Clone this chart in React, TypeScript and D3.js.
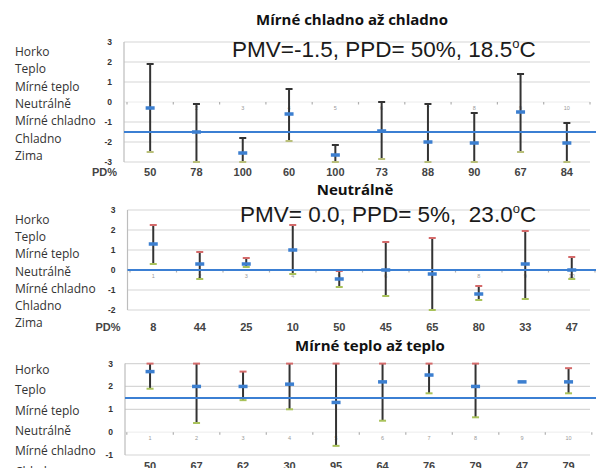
import React from 'react'
import * as d3 from 'd3'

// thermal sensation scale, shown left of each panel
const scaleLabels = ['Horko', 'Teplo', 'Mírné teplo', 'Neutrálně', 'Mírné chladno', 'Chladno', 'Zima']
const caseIds = ['1', '2', '3', '4', '5', '6', '7', '8', '9', '10']

// Mírné chladno až chladno
const coldPD = [50, 78, 100, 60, 100, 73, 88, 90, 67, 84]
const coldMean = [-0.3, -1.5, -2.55, -0.6, -2.65, -1.45, -2.0, -2.05, -0.5, -2.05]
const coldHi = [1.9, -0.1, -1.8, 0.65, -2.15, 0.0, -0.1, -0.55, 1.4, -1.05]
const coldLo = [-2.5, -3, -3, -1.95, -3, -2.85, -3, -3, -2.5, -3]

// Neutrálně
const neutralPD = [8, 44, 25, 10, 50, 45, 65, 80, 33, 47]
const neutralMean = [1.3, 0.3, 0.3, 1.0, -0.45, 0.0, -0.2, -1.2, 0.3, 0.0]
const neutralHi = [2.25, 0.9, 0.6, 2.25, -0.05, 1.4, 1.6, -0.8, 1.95, 0.65]
const neutralLo = [0.3, -0.45, 0.15, -0.2, -0.85, -1.3, -2.0, -1.5, -1.45, -0.45]

// Mírné teplo až teplo
const warmPD = [50, 67, 62, 30, 95, 64, 76, 79, 47, 79]
const warmMean = [2.65, 2.0, 2.0, 2.1, 1.3, 2.2, 2.5, 2.0, 2.2, 2.2]
const warmHi = [3, 3, 2.65, 3, 3, 3, 3, 3, 2.2, 2.8]
const warmLo = [1.9, 0.4, 1.4, 1.0, -0.6, 0.5, 1.7, 0.65, 2.2, 1.7]

const sans = '"Open Sans", "Noto Sans", sans-serif'
const arial = '"Liberation Sans", Arial, sans-serif'

type PanelProps = {
  title: string
  titleX: number
  titleY: number
  pmv?: string
  pmvX?: number
  pmvY?: number
  yDomain: [number, number]
  yRange: [number, number]
  xRange: [number, number]
  axisX: number
  pd: number[]
  mean: number[]
  hi: number[]
  lo: number[]
  refValue: number
  pdY: number
  showPD: boolean
  labelY: number
  labelStep: number
  hiCap: string
  loCap: string
}

const Panel = (p: PanelProps) => {
  const y = d3.scaleLinear().domain(p.yDomain).range(p.yRange)
  const x = d3.scaleBand().domain(caseIds).range(p.xRange).padding(0)
  const cx = (i: number) => (x(caseIds[i]) as number) + x.bandwidth() / 2
  const ticks = d3.range(p.yDomain[0], p.yDomain[1] + 1)
  const y0 = y(0)
  return (
    <g>
      {ticks.filter(t => t !== 0).map(t => (
        <line key={'g' + t} x1={p.axisX} x2={590} y1={y(t)} y2={y(t)} stroke="#d6d6d6" strokeWidth={1.2} />
      ))}
      <line x1={p.axisX} x2={590} y1={y0} y2={y0} stroke="#ececec" strokeWidth={1} />
      {d3.range(0, 11).map(i => (
        <line key={'bt' + i} x1={p.xRange[0] + i * x.step()} x2={p.xRange[0] + i * x.step()} y1={y0} y2={y0 + 2.5} stroke="#b0b0b0" strokeWidth={1.2} />
      ))}
      <line x1={p.axisX} x2={p.axisX} y1={y(p.yDomain[1])} y2={y(p.yDomain[0])} stroke="#bdbdbd" strokeWidth={1.2} />
      {ticks.map(t => (
        <text key={'t' + t} x={p.axisX - 12} y={y(t) + 3} textAnchor="end" fontFamily={arial} fontWeight="bold" fontSize={8.5} fill="#333">{t}</text>
      ))}
      {scaleLabels.map((s, i) => (
        <text key={s} x={15} y={p.labelY + i * p.labelStep + 4} fontFamily={sans} fontSize={12} fill="#333">{s}</text>
      ))}
      {caseIds.map((c, i) => (
        <text key={'id' + c} x={cx(i)} y={y0 + 8} textAnchor="middle" fontFamily={arial} fontSize={5.5} fill="#999">{c}</text>
      ))}
      {caseIds.map((c, i) => (
        <g key={'eb' + c}>
          <line x1={cx(i)} x2={cx(i)} y1={y(p.hi[i])} y2={y(p.lo[i])} stroke="#333" strokeWidth={2} />
          <line x1={cx(i) - 3.5} x2={cx(i) + 3.5} y1={y(p.hi[i])} y2={y(p.hi[i])} stroke={p.hiCap} strokeWidth={2} />
          <line x1={cx(i) - 3.5} x2={cx(i) + 3.5} y1={y(p.lo[i])} y2={y(p.lo[i])} stroke={p.loCap} strokeWidth={2} />
        </g>
      ))}
      <line x1={p.axisX} x2={596} y1={y(p.refValue)} y2={y(p.refValue)} stroke="#3b7fd3" strokeWidth={2} />
      {caseIds.map((c, i) => (
        <rect key={'m' + c} x={cx(i) - 4.5} y={y(p.mean[i]) - 1.75} width={9} height={3.5} fill="#3c7fd0" />
      ))}
      {p.pmv && (
        <text x={p.pmvX} y={p.pmvY} fontFamily={arial} fontSize={22.5} fill="#1a1a1a" style={{ whiteSpace: 'pre' }}>
          {p.pmv}
          <tspan fontSize={13} dy={-9}>o</tspan>
          <tspan dy={9}>C</tspan>
        </text>
      )}
      <text x={p.titleX} y={p.titleY} textAnchor="middle" fontFamily={sans} fontWeight="bold" fontSize={15} fill="#111">{p.title}</text>
      {p.showPD && (
        <text x={p.axisX - 7} y={p.pdY} textAnchor="end" fontFamily={arial} fontWeight="bold" fontSize={11} fill="#444">PD%</text>
      )}
      {p.pd.map((v, i) => (
        <text key={'pd' + i} x={cx(i)} y={p.pdY} textAnchor="middle" fontFamily={arial} fontWeight="bold" fontSize={11} fill="#444">{v}</text>
      ))}
    </g>
  )
}

export default function App() {
  return (
    <svg width={596} height={468} style={{ position: 'absolute', left: 0, top: 0, background: '#fff' }}>
      <rect width={596} height={468} fill="#fff" />
      <Panel
        title="Mírné chladno až chladno" titleX={352} titleY={25}
        pmv="PMV=-1.5, PPD= 50%, 18.5" pmvX={232} pmvY={57}
        yDomain={[-3, 3]} yRange={[162, 42]} xRange={[127, 590]} axisX={124}
        pd={coldPD} mean={coldMean} hi={coldHi} lo={coldLo} refValue={-1.5}
        pdY={176} showPD={true} labelY={52} labelStep={17.3}
        hiCap="#333" loCap="#b9bf7a"
      />
      <Panel
        title="Neutrálně" titleX={355} titleY={195}
        pmv="PMV= 0.0, PPD= 5%,  23.0" pmvX={240} pmvY={222}
        yDomain={[-2, 3]} yRange={[310, 210]} xRange={[130, 595]} axisX={127.5}
        pd={neutralPD} mean={neutralMean} hi={neutralHi} lo={neutralLo} refValue={0}
        pdY={331} showPD={true} labelY={220} labelStep={17.2}
        hiCap="#d46a6a" loCap="#a9c25a"
      />
      <Panel
        title="Mírné teplo až teplo" titleX={370} titleY={351}
        yDomain={[-1, 3]} yRange={[455, 363.6]} xRange={[126.8, 591.8]} axisX={125}
        pd={warmPD} mean={warmMean} hi={warmHi} lo={warmLo} refValue={1.5}
        pdY={470} showPD={false} labelY={370} labelStep={20.3}
        hiCap="#d46a6a" loCap="#a9c25a"
      />
    </svg>
  )
}
